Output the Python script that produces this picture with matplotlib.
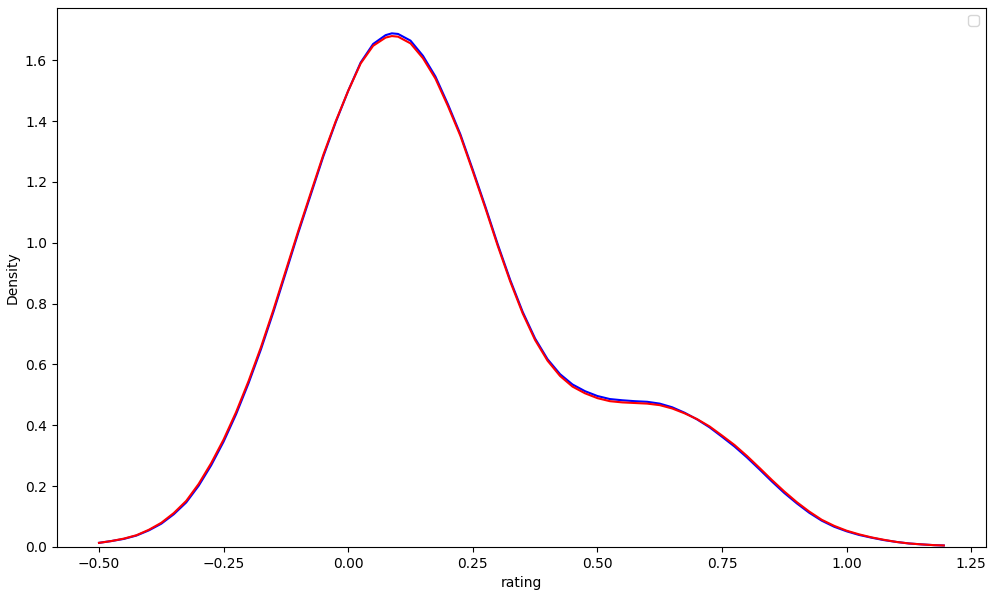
import matplotlib
matplotlib.use("Agg")
import matplotlib.pyplot as plt

# valores (curvas de densidad)
rating = [-0.5, -0.475, -0.45, -0.425, -0.4, -0.375, -0.35, -0.325, -0.3, -0.275,
          -0.25, -0.225, -0.2, -0.175, -0.15, -0.125, -0.1, -0.075, -0.05, -0.025,
          0.0, 0.025, 0.05, 0.075, 0.0875, 0.1, 0.125, 0.15, 0.175, 0.2,
          0.225, 0.25, 0.275, 0.3, 0.325, 0.35, 0.375, 0.4, 0.425, 0.45,
          0.475, 0.5, 0.525, 0.55, 0.575, 0.6, 0.625, 0.65, 0.675, 0.7,
          0.725, 0.75, 0.775, 0.8, 0.825, 0.85, 0.875, 0.9, 0.925, 0.95,
          0.975, 1.0, 1.025, 1.05, 1.075, 1.1, 1.125, 1.15, 1.175, 1.195]

densidad_azul = [0.013, 0.019, 0.026, 0.037, 0.054, 0.076, 0.107, 0.146, 0.201, 0.268,
                 0.346, 0.436, 0.538, 0.650, 0.773, 0.903, 1.034, 1.159, 1.284, 1.397,
                 1.50, 1.593, 1.654, 1.683, 1.689, 1.687, 1.665, 1.615, 1.547, 1.456,
                 1.357, 1.240, 1.120, 0.995, 0.878, 0.773, 0.685, 0.617, 0.568, 0.534,
                 0.512, 0.496, 0.486, 0.482, 0.479, 0.477, 0.471, 0.459, 0.441, 0.419,
                 0.393, 0.362, 0.330, 0.294, 0.255, 0.215, 0.177, 0.143, 0.112, 0.086,
                 0.066, 0.051, 0.039, 0.030, 0.022, 0.016, 0.011, 0.008, 0.0055, 0.0044]

densidad_roja = [0.013, 0.019, 0.027, 0.038, 0.056, 0.079, 0.111, 0.151, 0.207, 0.275,
                 0.353, 0.443, 0.545, 0.657, 0.780, 0.910, 1.040, 1.165, 1.289, 1.40,
                 1.50, 1.59, 1.648, 1.675, 1.680, 1.678, 1.656, 1.607, 1.54, 1.45,
                 1.352, 1.235, 1.115, 0.99, 0.873, 0.768, 0.68, 0.612, 0.562, 0.527,
                 0.505, 0.489, 0.479, 0.475, 0.473, 0.471, 0.466, 0.455, 0.439, 0.42,
                 0.396, 0.366, 0.335, 0.299, 0.260, 0.220, 0.182, 0.147, 0.116, 0.089,
                 0.069, 0.053, 0.041, 0.031, 0.023, 0.016, 0.011, 0.008, 0.0055, 0.0044]

fig, ax = plt.subplots(figsize=(9.96, 5.95), dpi=100)
ax.plot(rating, densidad_azul, color="blue", linewidth=1.5, solid_joinstyle="round")
ax.plot(rating, densidad_roja, color="red", linewidth=1.5, solid_joinstyle="round")
ax.set_ylim(bottom=0)
ax.set_xlabel("rating")
ax.set_ylabel("Density")
ax.legend(loc="upper right")
fig.subplots_adjust(left=0.057, right=0.99, top=0.987, bottom=0.081)
fig.savefig("out.png")
